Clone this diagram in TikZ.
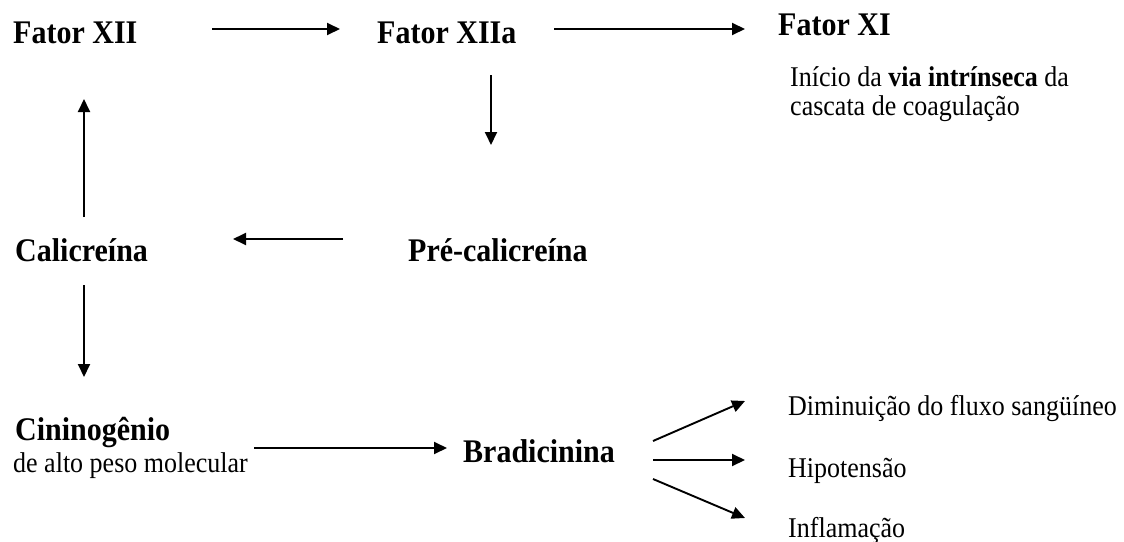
\documentclass[tikz,border=0pt]{standalone}
\usepackage{fontspec}
\usepackage{graphicx}
\setmainfont{Liberation Serif}
\usetikzlibrary{arrows.meta}
\newcommand{\vstretch}[1]{\scalebox{1}[1.1]{#1}}
\begin{document}
\begin{tikzpicture}[x=1pt,y=-1pt,
  bold/.style={inner sep=0pt, anchor=base west, font=\fontsize{30}{34}\selectfont\bfseries},
  plain/.style={inner sep=0pt, anchor=base west, font=\fontsize{26}{29}\selectfont},
  arr/.style={line width=1.9pt, -{Triangle[length=13pt,width=12pt]}}]
\fill[white] (0,0) rectangle (1124,541);
\useasboundingbox (0,0) rectangle (1124,541);

\node[bold] (fxii) at (13,43) {\vstretch{Fator XII}};
\node[bold] (fxiia) at (377,43) {\vstretch{Fator XIIa}};
\node[bold] (fxi) at (778,35) {\vstretch{Fator XI}};
\node[plain] (intro1) at (790,86) {\vstretch{Início da \textbf{via intrínseca} da}};
\node[plain] (intro2) at (790,115) {\vstretch{cascata de coagulação}};
\node[bold] (cal) at (15,261) {\vstretch{Calicreína}};
\node[bold] (prec) at (408,261) {\vstretch{Pré-calicreína}};
\node[bold] (cin) at (15,440) {\vstretch{Cininogênio}};
\node[plain] (alto) at (13,472) {\vstretch{de alto peso molecular}};
\node[bold] (brad) at (463,462) {\vstretch{Bradicinina}};
\node[plain] (dim) at (788,415) {\vstretch{Diminuição do fluxo sangüíneo}};
\node[plain] (hipo) at (788,477) {\vstretch{Hipotensão}};
\node[plain] (infl) at (788,537) {\vstretch{Inflamação}};

\draw[arr] ([shift={(199,-14)}]fxii.base west) -- ([shift={(-37,-14)}]fxiia.base west);
\draw[arr] ([shift={(177,-14)}]fxiia.base west) -- ([shift={(-33,-6)}]fxi.base west);
\draw[arr] ([shift={(114,32)}]fxiia.base west) -- ([shift={(83,-116)}]prec.base west);
\draw[arr] ([shift={(-65,-22)}]prec.base west) -- ([shift={(218,-22)}]cal.base west);
\draw[arr] ([shift={(69,-44)}]cal.base west) -- ([shift={(71,56)}]fxii.base west);
\draw[arr] ([shift={(69,24)}]cal.base west) -- ([shift={(69,-63)}]cin.base west);
\draw[arr] ([shift={(241,-24)}]alto.base west) -- ([shift={(-16,-14)}]brad.base west);
\draw[arr] ([shift={(190,-21)}]brad.base west) -- ([shift={(-43,-14)}]dim.base west);
\draw[arr] ([shift={(190,-2)}]brad.base west) -- ([shift={(-43,-17)}]hipo.base west);
\draw[arr] ([shift={(190,17)}]brad.base west) -- ([shift={(-43,-19)}]infl.base west);
\end{tikzpicture}
\end{document}
